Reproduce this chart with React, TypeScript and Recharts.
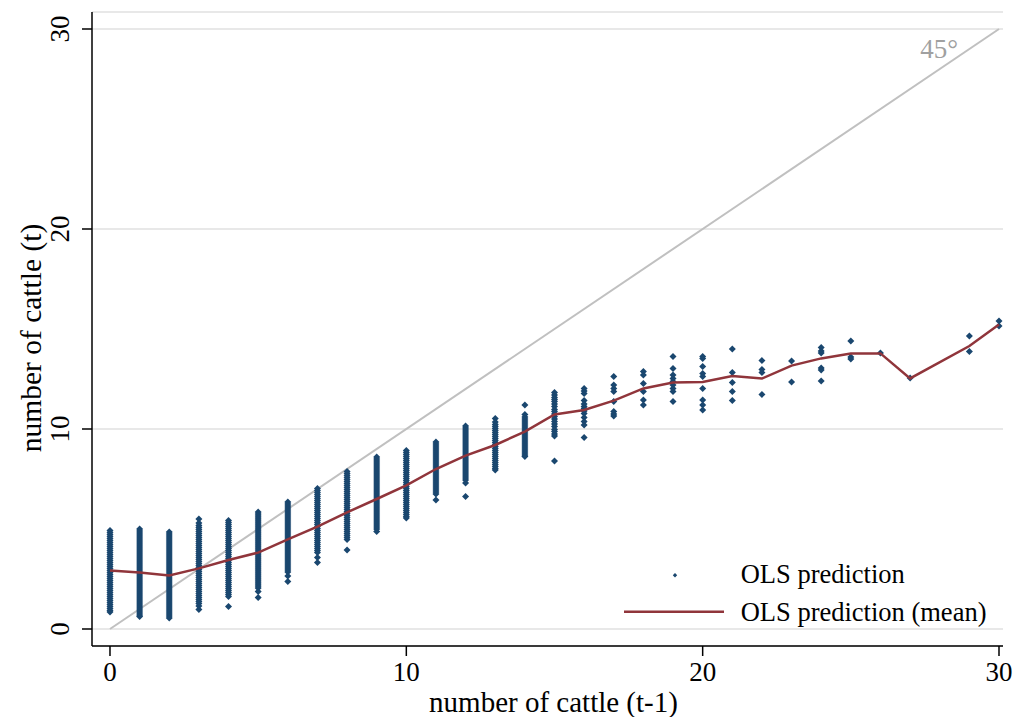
import {
  ScatterChart,
  Scatter,
  XAxis,
  YAxis,
  CartesianGrid,
  ReferenceLine,
  ReferenceDot,
  Legend,
  Label,
} from "recharts";

const NAVY = "#1a476f";
const CRANBERRY = "#90353b";
const GRAY = "#c0c0c0";
const FONT = "'Liberation Serif', 'Times New Roman', serif";

// lagged herd size (x) for each column of predictions
const lagValues = [0, 1, 2, 3, 4, 5, 6, 7, 8, 9, 10, 11, 12, 13, 14, 15, 16, 17, 18, 19, 20, 21, 22, 23, 24, 25, 26, 27, 29, 30];

// OLS predictions per lag value (low lags are dense columns)
const predByLag: number[][] = [
  [4.92, 4.82, 4.72, 4.62, 4.52, 4.42, 4.32, 4.22, 4.12, 4.02, 3.92, 3.82, 3.72, 3.62, 3.52, 3.42, 3.32, 3.22, 3.12, 3.02, 2.92, 2.82, 2.72, 2.62, 2.52, 2.42, 2.32, 2.22, 2.12, 2.02, 1.92, 1.82, 1.72, 1.62, 1.52, 1.42, 1.32, 1.22, 1.12, 1.02, 0.92, 0.85],
  [5.0, 4.9, 4.8, 4.7, 4.6, 4.5, 4.4, 4.3, 4.2, 4.1, 4.0, 3.9, 3.8, 3.7, 3.6, 3.5, 3.4, 3.3, 3.2, 3.1, 3.0, 2.9, 2.8, 2.7, 2.6, 2.5, 2.4, 2.3, 2.2, 2.1, 2.0, 1.9, 1.8, 1.7, 1.6, 1.5, 1.4, 1.3, 1.2, 1.1, 1.0, 0.9, 0.8, 0.7, 0.62],
  [4.85, 4.75, 4.65, 4.55, 4.45, 4.35, 4.25, 4.15, 4.05, 3.95, 3.85, 3.75, 3.65, 3.55, 3.45, 3.35, 3.25, 3.15, 3.05, 2.95, 2.85, 2.75, 2.65, 2.55, 2.45, 2.35, 2.25, 2.15, 2.05, 1.95, 1.85, 1.75, 1.65, 1.55, 1.45, 1.35, 1.25, 1.15, 1.05, 0.95, 0.85, 0.75, 0.65, 0.55],
  [5.5, 5.3, 5.18, 5.08, 4.98, 4.88, 4.78, 4.68, 4.58, 4.48, 4.38, 4.28, 4.18, 4.08, 3.98, 3.88, 3.78, 3.68, 3.58, 3.48, 3.38, 3.28, 3.18, 3.08, 2.98, 2.88, 2.78, 2.68, 2.58, 2.48, 2.38, 2.28, 2.18, 2.08, 1.98, 1.88, 1.78, 1.68, 1.58, 1.48, 1.38, 1.28, 1.15, 0.98],
  [5.42, 5.32, 5.22, 5.12, 5.02, 4.92, 4.82, 4.72, 4.62, 4.52, 4.42, 4.32, 4.22, 4.12, 4.02, 3.92, 3.82, 3.72, 3.62, 3.52, 3.42, 3.32, 3.22, 3.12, 3.02, 2.92, 2.82, 2.72, 2.62, 2.52, 2.42, 2.32, 2.22, 2.12, 2.02, 1.92, 1.82, 1.72, 1.62, 1.12],
  [5.85, 5.75, 5.65, 5.55, 5.45, 5.35, 5.25, 5.15, 5.05, 4.95, 4.85, 4.75, 4.65, 4.55, 4.45, 4.35, 4.25, 4.15, 4.05, 3.95, 3.85, 3.75, 3.65, 3.55, 3.45, 3.35, 3.25, 3.15, 3.05, 2.95, 2.85, 2.75, 2.65, 2.55, 2.45, 2.35, 2.25, 2.15, 2.05, 1.88, 1.58],
  [6.35, 6.25, 6.15, 6.05, 5.95, 5.85, 5.75, 5.65, 5.55, 5.45, 5.35, 5.25, 5.15, 5.05, 4.95, 4.85, 4.75, 4.65, 4.55, 4.45, 4.35, 4.25, 4.15, 4.05, 3.95, 3.85, 3.75, 3.65, 3.55, 3.45, 3.35, 3.25, 3.15, 3.05, 2.95, 2.85, 2.65, 2.38],
  [7.02, 6.92, 6.82, 6.72, 6.62, 6.52, 6.42, 6.32, 6.22, 6.12, 6.02, 5.92, 5.82, 5.72, 5.62, 5.52, 5.42, 5.32, 5.22, 5.12, 5.02, 4.92, 4.82, 4.72, 4.62, 4.52, 4.42, 4.32, 4.22, 4.12, 4.02, 3.92, 3.82, 3.58, 3.33],
  [7.87, 7.77, 7.67, 7.57, 7.47, 7.37, 7.27, 7.17, 7.07, 6.97, 6.87, 6.77, 6.67, 6.57, 6.47, 6.37, 6.27, 6.17, 6.07, 5.97, 5.87, 5.77, 5.67, 5.57, 5.47, 5.37, 5.27, 5.17, 5.07, 4.97, 4.87, 4.77, 4.67, 4.57, 4.47, 3.95],
  [8.6, 8.5, 8.4, 8.3, 8.2, 8.1, 8.0, 7.9, 7.8, 7.7, 7.6, 7.5, 7.4, 7.3, 7.2, 7.1, 7.0, 6.9, 6.8, 6.7, 6.6, 6.5, 6.4, 6.3, 6.2, 6.1, 6.0, 5.9, 5.8, 5.7, 5.6, 5.5, 5.4, 5.3, 5.2, 5.1, 5.0, 4.88],
  [8.92, 8.82, 8.72, 8.62, 8.52, 8.42, 8.32, 8.22, 8.12, 8.02, 7.92, 7.82, 7.72, 7.62, 7.52, 7.42, 7.32, 7.22, 7.12, 7.02, 6.92, 6.82, 6.72, 6.62, 6.52, 6.42, 6.32, 6.22, 6.12, 6.02, 5.92, 5.82, 5.72, 5.62, 5.55],
  [9.35, 9.25, 9.15, 9.05, 8.95, 8.85, 8.75, 8.65, 8.55, 8.45, 8.35, 8.25, 8.15, 8.05, 7.95, 7.85, 7.75, 7.65, 7.55, 7.45, 7.35, 7.25, 7.15, 7.05, 6.95, 6.85, 6.75, 6.45],
  [10.15, 10.05, 9.95, 9.85, 9.75, 9.65, 9.55, 9.45, 9.35, 9.25, 9.15, 9.05, 8.95, 8.85, 8.75, 8.65, 8.55, 8.45, 8.35, 8.25, 8.15, 8.05, 7.95, 7.85, 7.75, 7.65, 7.55, 7.45, 7.3, 6.62],
  [10.52, 10.35, 10.22, 10.12, 10.02, 9.92, 9.82, 9.72, 9.62, 9.52, 9.42, 9.32, 9.22, 9.12, 9.02, 8.92, 8.82, 8.72, 8.62, 8.52, 8.42, 8.32, 8.22, 8.12, 8.02, 7.95],
  [11.2, 10.72, 10.6, 10.5, 10.4, 10.3, 10.2, 10.1, 10.0, 9.9, 9.8, 9.7, 9.6, 9.5, 9.4, 9.3, 9.2, 9.1, 9.0, 8.9, 8.8, 8.7, 8.62],
  [11.82, 11.7, 11.57, 11.47, 11.37, 11.25, 11.12, 10.98, 10.87, 10.75, 10.62, 10.5, 10.37, 10.25, 10.12, 9.98, 9.87, 9.75, 9.65, 8.4],
  [12.03, 11.9, 11.78, 11.42, 11.25, 11.13, 11.03, 10.9, 10.78, 10.58, 10.37, 10.2, 9.58],
  [12.62, 12.2, 12.03, 11.87, 11.37, 10.87, 10.75, 10.65],
  [12.87, 12.7, 12.28, 11.87, 11.45, 11.2],
  [13.62, 13.03, 12.7, 12.53, 12.37, 12.2, 12.03, 11.87, 11.37],
  [13.62, 13.53, 13.12, 12.78, 12.62, 12.03, 11.45, 11.2, 10.95],
  [14.0, 12.83, 12.32, 11.87, 11.42],
  [13.42, 12.98, 12.82, 11.73],
  [13.4, 12.35],
  [14.07, 13.9, 13.8, 13.05, 12.95, 12.4],
  [14.4, 13.6, 13.5],
  [13.8],
  [12.55],
  [14.65, 13.87],
  [15.4, 15.15],
];

// mean prediction per lag value
const meanLag = [0, 1, 2, 3, 4, 5, 6, 7, 8, 9, 10, 11, 12, 13, 14, 15, 16, 17, 18, 19, 20, 21, 22, 23, 24, 25, 26, 27, 29, 30];
const meanPred = [2.93, 2.82, 2.68, 3.03, 3.45, 3.82, 4.48, 5.12, 5.83, 6.5, 7.18, 8.0, 8.67, 9.2, 9.87, 10.73, 10.95, 11.42, 12.03, 12.33, 12.35, 12.65, 12.52, 13.17, 13.53, 13.78, 13.78, 12.53, 14.15, 15.23];

const ticks = [0, 10, 20, 30];

const scatterData = lagValues.flatMap((lag, i) =>
  predByLag[i].map((y) => ({ x: lag, y }))
);
const meanData = meanLag.map((x, i) => ({ x, y: meanPred[i] }));

const Diamond = (props: any) => {
  const { cx, cy } = props;
  if (cx == null || cy == null) return <g />;
  const r = 3.5;
  return (
    <path
      d={`M${cx},${cy - r}L${cx + r},${cy}L${cx},${cy + r}L${cx - r},${cy}Z`}
      fill={NAVY}
    />
  );
};

const YTick = (props: any) => {
  const { x, y, payload } = props;
  return (
    <text
      x={x}
      y={y}
      transform={`rotate(-90 ${x} ${y})`}
      textAnchor="middle"
      fontFamily={FONT}
      fontSize={27}
      fill="#000"
    >
      {payload.value}
    </text>
  );
};

const renderLegend = () => (
  <svg width={400} height={80} style={{ display: "block" }}>
    <path d="M75,18L77.2,20.2L75,22.4L72.8,20.2Z" fill={NAVY} />
    <text x={140.7} y={28.3} fontFamily={FONT} fontSize={26.5} fill="#000">
      OLS prediction
    </text>
    <line x1={24} x2={124} y1={56.7} y2={56.7} stroke={CRANBERRY} strokeWidth={2.5} />
    <text x={140.7} y={65.7} fontFamily={FONT} fontSize={26.5} fill="#000">
      OLS prediction (mean)
    </text>
  </svg>
);

export default function App() {
  return (
    <div style={{ position: "absolute", left: 0, top: 0, width: 1016, height: 717, background: "#fff" }}>
      <ScatterChart
        width={1016}
        height={717}
        margin={{ top: 12, right: 13, bottom: 0, left: 0 }}
      >
        <CartesianGrid vertical={false} stroke="#e8e8e8" strokeWidth={2} />
        <XAxis
          type="number"
          dataKey="x"
          domain={[-0.607, 30.135]}
          ticks={ticks}
          allowDataOverflow
          height={71}
          tickSize={10}
          tickMargin={6}
          stroke="#000"
          strokeWidth={1.5}
          tick={{ fontFamily: FONT, fontSize: 27, fill: "#000" }}
        >
          <Label
            content={({ viewBox }: any) => (
              <text
                x={viewBox.x + viewBox.width / 2 + 6}
                y={viewBox.y + 66}
                textAnchor="middle"
                fontFamily={FONT}
                fontSize={29}
                fill="#000"
              >
                number of cattle (t-1)
              </text>
            )}
          />
        </XAxis>
        <YAxis
          type="number"
          dataKey="y"
          domain={[-0.85, 30.85]}
          ticks={ticks}
          allowDataOverflow
          width={92}
          tickSize={10}
          tickMargin={13}
          stroke="#000"
          strokeWidth={1.5}
          tick={<YTick />}
        >
          <Label
            content={({ viewBox }: any) => {
              const bx = 40.5;
              const cy = viewBox.y + viewBox.height / 2 + 9;
              return (
                <text
                  x={bx}
                  y={cy}
                  transform={`rotate(-90 ${bx} ${cy})`}
                  textAnchor="middle"
                  fontFamily={FONT}
                  fontSize={29.5}
                  fill="#000"
                >
                  number of cattle (t)
                </text>
              );
            }}
          />
        </YAxis>
        <ReferenceLine
          segment={[
            { x: 0, y: 0 },
            { x: 30, y: 30 },
          ]}
          stroke={GRAY}
          strokeWidth={2}
        />
        <ReferenceDot
          x={27.98}
          y={29.05}
          r={0}
          fill="none"
          stroke="none"
          label={{
            value: "45°",
            position: "center",
            fill: "#a0a0a0",
            fontFamily: FONT,
            fontSize: 27,
          }}
        />
        <Scatter
          name="OLS prediction"
          data={scatterData}
          shape={<Diamond />}
          isAnimationActive={false}
        />
        <Scatter
          name="OLS prediction (mean)"
          data={meanData}
          line={{ stroke: CRANBERRY, strokeWidth: 2.5 }}
          shape={() => <g />}
          isAnimationActive={false}
        />
        <Legend
          layout="vertical"
          align="center"
          verticalAlign="middle"
          content={renderLegend}
          wrapperStyle={{ left: 600, top: 555, width: 400, height: 80 }}
        />
      </ScatterChart>
    </div>
  );
}
